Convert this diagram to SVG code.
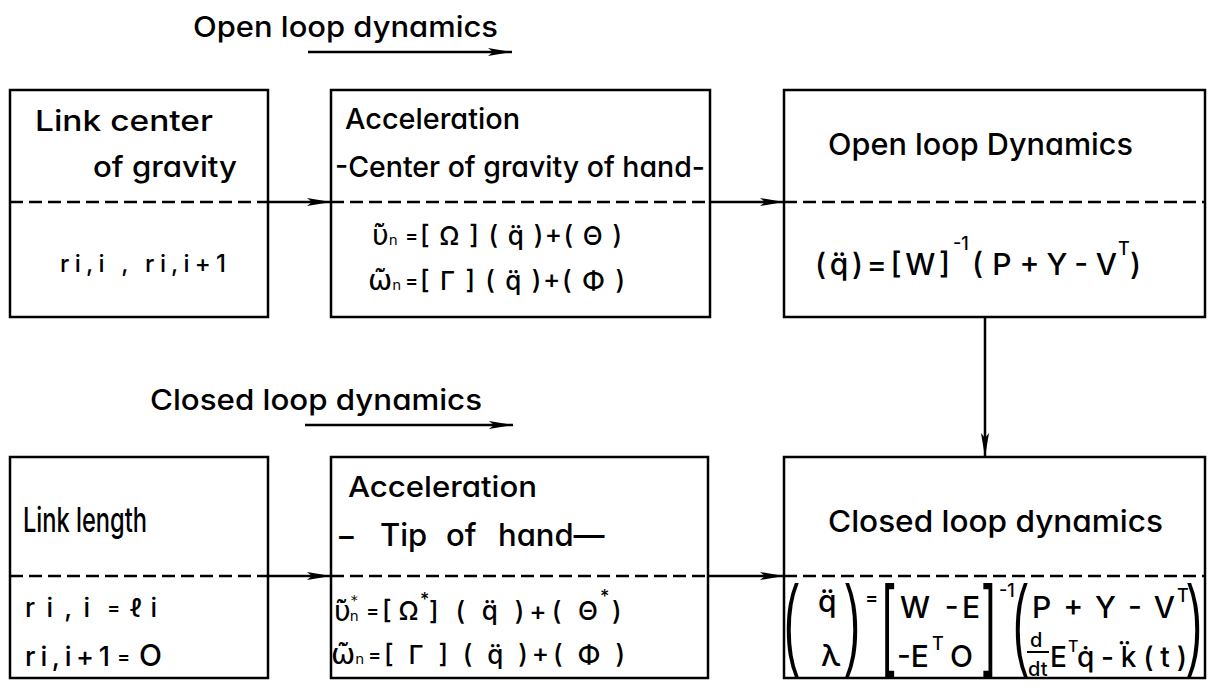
<svg xmlns="http://www.w3.org/2000/svg" width="1211" height="690" viewBox="0 0 1211 690">
<defs>
<style>
.box{fill:#fff;stroke:#000;stroke-width:2.5}
.dash{stroke:#000;stroke-width:2.5;stroke-dasharray:13 6;fill:none}
.conn{stroke:#000;stroke-width:2.5;fill:none}
text{font-family:Inter,"Liberation Sans","DejaVu Sans",sans-serif;font-feature-settings:"cv11";font-weight:500;fill:#000}
.lbl{font-size:29px}
.f{font-size:26px}
.g{font-family:"DejaVu Sans",sans-serif;font-weight:400;font-size:29px}
.big{font-family:"Liberation Sans","DejaVu Sans",sans-serif;font-weight:400;font-size:100px}
.sup{font-size:18px}
</style>
<marker id="ah" markerUnits="userSpaceOnUse" markerWidth="24" markerHeight="12" viewBox="0 0 24 12" refX="24" refY="6" orient="auto">
<path d="M0,2 L24,6 L0,10 L5,6 z" fill="#000"/>
</marker>
</defs>
<rect width="1211" height="690" fill="#fff"/>

<g id="title-open">
<text class="lbl" x="193" y="37" textLength="305" lengthAdjust="spacingAndGlyphs">Open  loop  dynamics</text>
</g>
<g id="title-closed">
<text class="lbl" x="150" y="410" textLength="332" lengthAdjust="spacingAndGlyphs">Closed  loop  dynamics</text>
</g>

<g id="node-link-cog">
<rect class="box" x="10" y="90" width="258" height="227"/>
<line class="dash" x1="10" y1="202" x2="268" y2="202"/>
<text class="lbl" x="35" y="131" textLength="178" lengthAdjust="spacingAndGlyphs">Link  center</text>
<text class="lbl" x="93" y="177" textLength="144" lengthAdjust="spacingAndGlyphs">of  gravity</text>
<text x="60" y="272" font-size="24" font-weight="400" textLength="166" lengthAdjust="spacing">ri,i  ,  ri,i+1</text>
</g>

<g id="node-acc-cog">
<rect class="box" x="331" y="90" width="379" height="227"/>
<line class="dash" x1="331" y1="202" x2="710" y2="202"/>
<text class="lbl" x="345" y="129" textLength="175" lengthAdjust="spacingAndGlyphs">Acceleration</text>
<text class="lbl" x="335" y="177" textLength="370" lengthAdjust="spacingAndGlyphs">-Center of gravity of hand-</text>
<text class="g" x="372" y="245">υ̇̃<tspan font-size="14">n</tspan></text>
<text x="405" y="243" font-size="20">=</text>
<text class="f" x="420" y="245" textLength="202" lengthAdjust="spacing">[ Ω ] ( q̈ )+( Θ )</text>
<text class="g" x="368" y="290" font-size="27">ω̇̃<tspan font-size="14">n</tspan></text>
<text x="405" y="288" font-size="20">=</text>
<text class="f" x="420" y="290" textLength="205" lengthAdjust="spacing">[ Γ ] ( q̈ )+( Φ )</text>
</g>

<g id="node-open-dyn">
<rect class="box" x="784" y="90" width="421" height="227"/>
<line class="dash" x1="784" y1="202" x2="1205" y2="202"/>
<text x="828" y="155" font-size="30" textLength="305" lengthAdjust="spacingAndGlyphs">Open  loop  Dynamics</text>
<text x="815" y="275" font-size="30" textLength="135" lengthAdjust="spacing">( q̈ ) = [ W ]</text>
<text class="sup" x="953" y="250">-1</text>
<text x="972" y="275" font-size="30" textLength="145" lengthAdjust="spacing">(P+Y-V</text>
<text class="sup" x="1118" y="255">T</text>
<text x="1130" y="275" font-size="30">)</text>
</g>

<g id="node-link-len">
<rect class="box" x="10" y="457" width="258" height="221"/>
<line class="dash" x1="10" y1="576" x2="268" y2="576"/>
<text x="23" y="532" font-size="34" textLength="124" lengthAdjust="spacingAndGlyphs">Link length</text>
<text x="25" y="617" font-size="26" font-weight="400" textLength="65" lengthAdjust="spacing">ri,i</text>
<text x="107" y="615" font-size="20">=</text>
<text x="130" y="617" font-size="26" font-weight="400" textLength="27" lengthAdjust="spacing">ℓi</text>
<text x="25" y="666" font-size="27" font-weight="400" textLength="85" lengthAdjust="spacing">ri,i+1</text>
<text x="117" y="664" font-size="20">=</text>
<text x="139" y="666" font-size="30" font-weight="400">O</text>
</g>

<g id="node-acc-tip">
<rect class="box" x="331" y="457" width="377" height="221"/>
<line class="dash" x1="331" y1="576" x2="708" y2="576"/>
<text class="lbl" x="348" y="497" textLength="189" lengthAdjust="spacingAndGlyphs">Acceleration</text>
<text font-size="31"><tspan x="336" y="546">−</tspan><tspan x="380" y="546">Tip</tspan><tspan x="446" y="546">of</tspan><tspan x="498" y="546">hand—</tspan></text>
<text class="g" x="334" y="621">υ̇̃<tspan font-size="14" dy="-16">*</tspan><tspan font-size="14" dx="-8" dy="16">n</tspan></text>
<text x="366" y="618" font-size="20">=</text>
<text class="f" x="382" y="620" font-size="27">[ Ω</text>
<text class="sup" x="420" y="606">*</text>
<text class="f" x="429" y="620" font-size="27" textLength="169" lengthAdjust="spacing">] ( q̈ )+( Θ</text>
<text class="sup" x="600" y="603">*</text>
<text class="f" x="612" y="620" font-size="27">)</text>
<text class="g" x="331" y="664" font-size="27">ω̇̃<tspan font-size="14">n</tspan></text>
<text x="368" y="662" font-size="20">=</text>
<text class="f" x="384" y="664" font-size="27" textLength="241" lengthAdjust="spacing">[ Γ ] ( q̈ )+( Φ )</text>
</g>

<g id="node-closed-dyn">
<rect class="box" x="784" y="457" width="421" height="221"/>
<line class="dash" x1="784" y1="576" x2="1205" y2="576"/>
<text x="828" y="532" font-size="30" textLength="335" lengthAdjust="spacingAndGlyphs">Closed  loop  dynamics</text>
<text class="big" transform="translate(784,656) scale(0.45,1)">(</text>
<text x="818" y="612" font-size="30">q̈</text>
<text x="821" y="666" font-size="30">λ</text>
<text class="big" transform="translate(845,656) scale(0.45,1)">)</text>
<text x="865" y="605" font-size="20">=</text>
<text class="big" transform="translate(882,656) scale(0.45,1)">[</text>
<text x="900" y="618" font-size="30" textLength="80" lengthAdjust="spacing">W -E</text>
<text x="897" y="667" font-size="30">-E</text>
<text class="sup" x="932" y="650">T</text>
<text x="950" y="667" font-size="30">O</text>
<text class="big" transform="translate(983,656) scale(0.45,1)">]</text>
<text class="sup" x="999" y="597">-1</text>
<text class="big" transform="translate(1013,656) scale(0.45,1)">(</text>
<text x="1032" y="618" font-size="30" textLength="143" lengthAdjust="spacing">P + Y - V</text>
<text class="sup" x="1177" y="602">T</text>
<text x="1030" y="647" font-size="20">d</text>
<line x1="1027" y1="652" x2="1049" y2="652" stroke="#000" stroke-width="2"/>
<text x="1028" y="676" font-size="20">dt</text>
<text x="1050" y="667" font-size="28">E</text>
<text x="1068" y="652" font-size="16">T</text>
<text x="1077" y="667" font-size="28" textLength="110" lengthAdjust="spacing">q̇-k̈(t)</text>
<text class="big" transform="translate(1187,656) scale(0.45,1)">)</text>
</g>

<g id="connectors">
<line class="conn" x1="308" y1="52" x2="512" y2="52" marker-end="url(#ah)"/>
<line class="conn" x1="305" y1="425" x2="513" y2="425" marker-end="url(#ah)"/>
<line class="conn" x1="268" y1="202" x2="331" y2="202" marker-end="url(#ah)"/>
<line class="conn" x1="710" y1="202" x2="784" y2="202" marker-end="url(#ah)"/>
<line class="conn" x1="268" y1="576" x2="331" y2="576" marker-end="url(#ah)"/>
<line class="conn" x1="708" y1="576" x2="784" y2="576" marker-end="url(#ah)"/>
<line class="conn" x1="985" y1="317" x2="985" y2="457" marker-end="url(#ah)"/>
</g>
</svg>
